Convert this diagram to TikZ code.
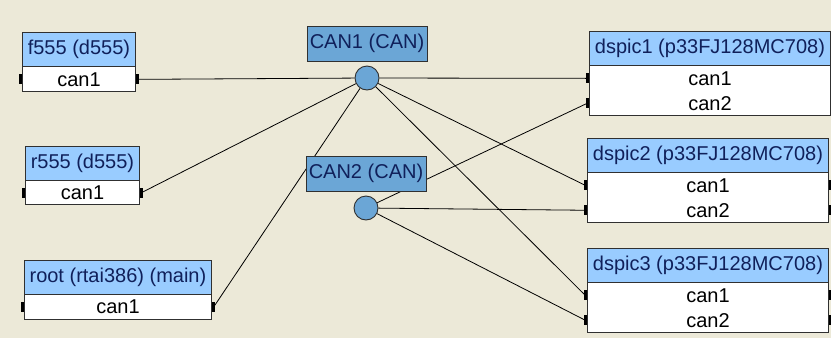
\documentclass[tikz,border=0pt]{standalone}
\usepackage{fontspec}
\setmainfont{Liberation Sans}
\usetikzlibrary{positioning}

\definecolor{panel}{HTML}{ECE9D8}
\definecolor{headblue}{HTML}{99CCFF}
\definecolor{busblue}{HTML}{6BA6D6}
\definecolor{headtext}{HTML}{10205A}
\definecolor{boxline}{HTML}{303030}

\pgfdeclarelayer{back}
\pgfdeclarelayer{wires}
\pgfsetlayers{back,wires,main}

\begin{document}
\begin{tikzpicture}[x=1pt,y=-1pt,
    head/.style={draw=boxline, line width=0.9pt, fill=headblue, text=headtext, inner sep=0pt,
      minimum height=34, anchor=north west, font=\fontsize{20}{22}\selectfont},
    row/.style={fill=white, inner sep=0pt, minimum height=24.5, font=\fontsize{20}{22}\selectfont},
    frame/.style={draw=boxline, line width=0.9pt},
    port/.style={fill=black, inner sep=0pt, minimum width=3.5, minimum height=10},
    buslabel/.style={draw=boxline, line width=0.9pt, fill=busblue, text=headtext, inner sep=0pt,
      minimum width=120, minimum height=35, font=\fontsize{20}{22}\selectfont},
    hub/.style={circle, draw=boxline, line width=0.9pt, fill=busblue, inner sep=0pt, minimum size=24},
    wire/.style={black, line width=0.8pt}]

  % background
  \begin{pgfonlayer}{back}
    \fill[panel] (0,0) rectangle (831,338);
  \end{pgfonlayer}
  \useasboundingbox (0,0) rectangle (831,338);

  % left devices
  \node[head, minimum width=113] (f555) at (22,32) {f555 (d555)};
  \node[row, minimum width=113, below=0pt of f555] (f555-r1) {can1};
  \draw[frame] (f555-r1.north west) rectangle (f555-r1.south east);

  \node[head, minimum width=114] (r555) at (25,146) {r555 (d555)};
  \node[row, minimum width=114, minimum height=23, below=0pt of r555] (r555-r1) {can1};
  \draw[frame] (r555-r1.north west) rectangle (r555-r1.south east);

  \node[head, minimum width=187] (root) at (24,260) {root (rtai386) (main)};
  \node[row, minimum width=187, minimum height=24, below=0pt of root] (root-r1) {can1};
  \draw[frame] (root-r1.north west) rectangle (root-r1.south east);

  \foreach \dev in {f555,r555,root} {
    \node[port, anchor=east] (\dev-l1) at (\dev-r1.west) {};
    \node[port, anchor=west] (\dev-p1) at (\dev-r1.east) {};
  }

  % right devices
  \foreach \i/\x/\y in {1/589/31, 2/587/138, 3/587/248} {
    \node[head, minimum width=241] (ds\i) at (\x,\y) {dspic\i{} (p33FJ128MC708)};
    \node[row, minimum width=241, below=0pt of ds\i] (ds\i-r1) {can1};
    \node[row, minimum width=241, below=0pt of ds\i-r1] (ds\i-r2) {can2};
    \draw[frame] (ds\i-r1.north west) rectangle (ds\i-r2.south east);
    \foreach \k in {1,2} {
      \node[port, anchor=east] (ds\i-l\k) at (ds\i-r\k.west) {};
      \node[port, anchor=west] (ds\i-p\k) at (ds\i-r\k.east) {};
    }
  }

  % buses
  \node[hub] (can1) at (367,78) {};
  \node[buslabel, above=4pt of can1] (can1lbl) {CAN1 (CAN)};
  \node[hub] (can2) at (366,208) {};
  \node[buslabel, above=4pt of can2] (can2lbl) {CAN2 (CAN)};

  % connections
  \begin{pgfonlayer}{wires}
    \foreach \dev in {f555,r555,root}
      \draw[wire] (\dev-p1.center) -- (can1);
    \foreach \i in {1,2,3} {
      \draw[wire] (can1) -- (ds\i-l1.center);
      \draw[wire] (can2) -- (ds\i-l2.center);
    }
  \end{pgfonlayer}
\end{tikzpicture}
\end{document}
